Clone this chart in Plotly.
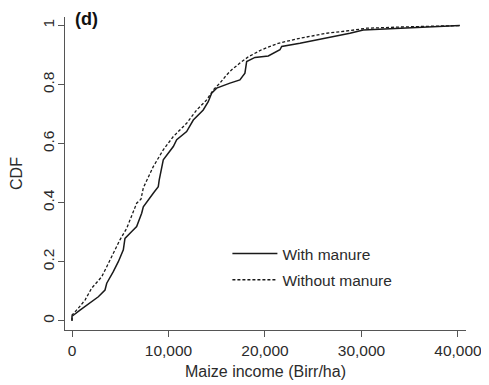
import plotly.graph_objects as go

# Maize income (Birr/ha) and CDF values
with_x = [0, 0, 830, 1870, 2730, 3420, 3600, 4280, 4800, 5320, 5490, 6190, 6700, 7220, 7390,
          8420, 8940, 9040, 9460, 10500, 10850, 11880, 12570, 13600, 14120, 14470, 14990,
          16370, 17400, 17920, 18100, 18960, 20340, 21550, 21730, 23620, 25000, 27070,
          28800, 30180, 32250, 35360, 40200]
with_y = [0, 0.015, 0.036, 0.059, 0.081, 0.104, 0.127, 0.166, 0.200, 0.240, 0.279, 0.302,
          0.319, 0.364, 0.386, 0.432, 0.454, 0.477, 0.545, 0.590, 0.613, 0.641, 0.680,
          0.714, 0.742, 0.771, 0.788, 0.805, 0.816, 0.839, 0.878, 0.892, 0.897, 0.918,
          0.929, 0.940, 0.949, 0.961, 0.974, 0.985, 0.988, 0.991, 1.0]

without_x = [0, 0, 650, 1350, 2040, 3080, 3600, 4460, 4970, 5670, 6190, 6700, 7150, 7390,
             8420, 9460, 10500, 11880, 12920, 13960, 14640, 15330, 16030, 16550, 17400,
             18270, 19650, 21370, 23620, 26390, 28800, 30530, 33980, 40200]
without_y = [0, 0.019, 0.042, 0.070, 0.110, 0.149, 0.183, 0.240, 0.274, 0.313, 0.358, 0.398,
             0.412, 0.450, 0.522, 0.579, 0.624, 0.669, 0.714, 0.748, 0.782, 0.805, 0.833,
             0.850, 0.873, 0.894, 0.918, 0.940, 0.957, 0.974, 0.983, 0.991, 0.995, 1.0]

x_ticks = [0, 10000, 20000, 30000, 40000]
x_tick_labels = ["0", "10,000", "20,000", "30,000", "40,000"]
y_ticks = [0, 0.2, 0.4, 0.6, 0.8, 1.0]
y_tick_labels = ["0", "0.2", "0.4", "0.6", "0.8", "1"]

FONT = "Liberation Sans, Arial, sans-serif"
TXT = "#2b2b2b"
AX = "#555555"

fig = go.Figure()
fig.add_trace(go.Scatter(x=with_x, y=with_y, mode="lines", name="With manure",
                         legendgroup="a",
                         line=dict(color="#1a1a1a", width=1.5)))
fig.add_trace(go.Scatter(x=without_x, y=without_y, mode="lines", name="Without manure",
                         legendgroup="b",
                         line=dict(color="#1a1a1a", width=1.3, dash="3px,2px")))

# the page body adds an 8px offset, so the figure is 8px smaller with left/top margins trimmed
fig.update_layout(
    width=481, height=377,
    margin=dict(l=57, r=23, t=9, b=55),
    paper_bgcolor="white", plot_bgcolor="white",
    font=dict(family=FONT, color=TXT, size=15),
    showlegend=True,
    legend=dict(x=0.405, y=0.297, xanchor="left", yanchor="top",
                bgcolor="rgba(0,0,0,0)", font=dict(size=15.5, color=TXT),
                tracegroupgap=3, itemwidth=45),
    xaxis=dict(range=[-725, 40830], showline=True, linecolor=AX, linewidth=1.2,
               ticks="outside", ticklen=6, tickcolor=AX, tickwidth=1.2,
               tickvals=x_ticks, ticktext=x_tick_labels, showgrid=False, zeroline=False,
               automargin=False,
               tickfont=dict(size=15.5, color=TXT),
               title=dict(text="Maize income (Birr/ha)", font=dict(size=16, color=TXT), standoff=8)),
    yaxis=dict(range=[-0.0315, 1.029], showline=True, linecolor=AX, linewidth=1.2,
               ticks="outside", ticklen=6, tickcolor=AX, tickwidth=1.2,
               tickvals=y_ticks, ticktext=y_tick_labels, tickangle=-90,
               ticklabelstandoff=-2,
               showgrid=False, zeroline=False, automargin=False,
               tickfont=dict(size=15.5, color=TXT),
               title=dict(text="CDF", font=dict(size=16, color=TXT), standoff=16)),
    annotations=[dict(text="<b>(d)</b>", x=0.02, y=0.993, xref="paper", yref="paper",
                      xanchor="left", yanchor="middle", showarrow=False,
                      font=dict(size=18, color="#111111", family=FONT))],
)

fig.write_html("out.html")
